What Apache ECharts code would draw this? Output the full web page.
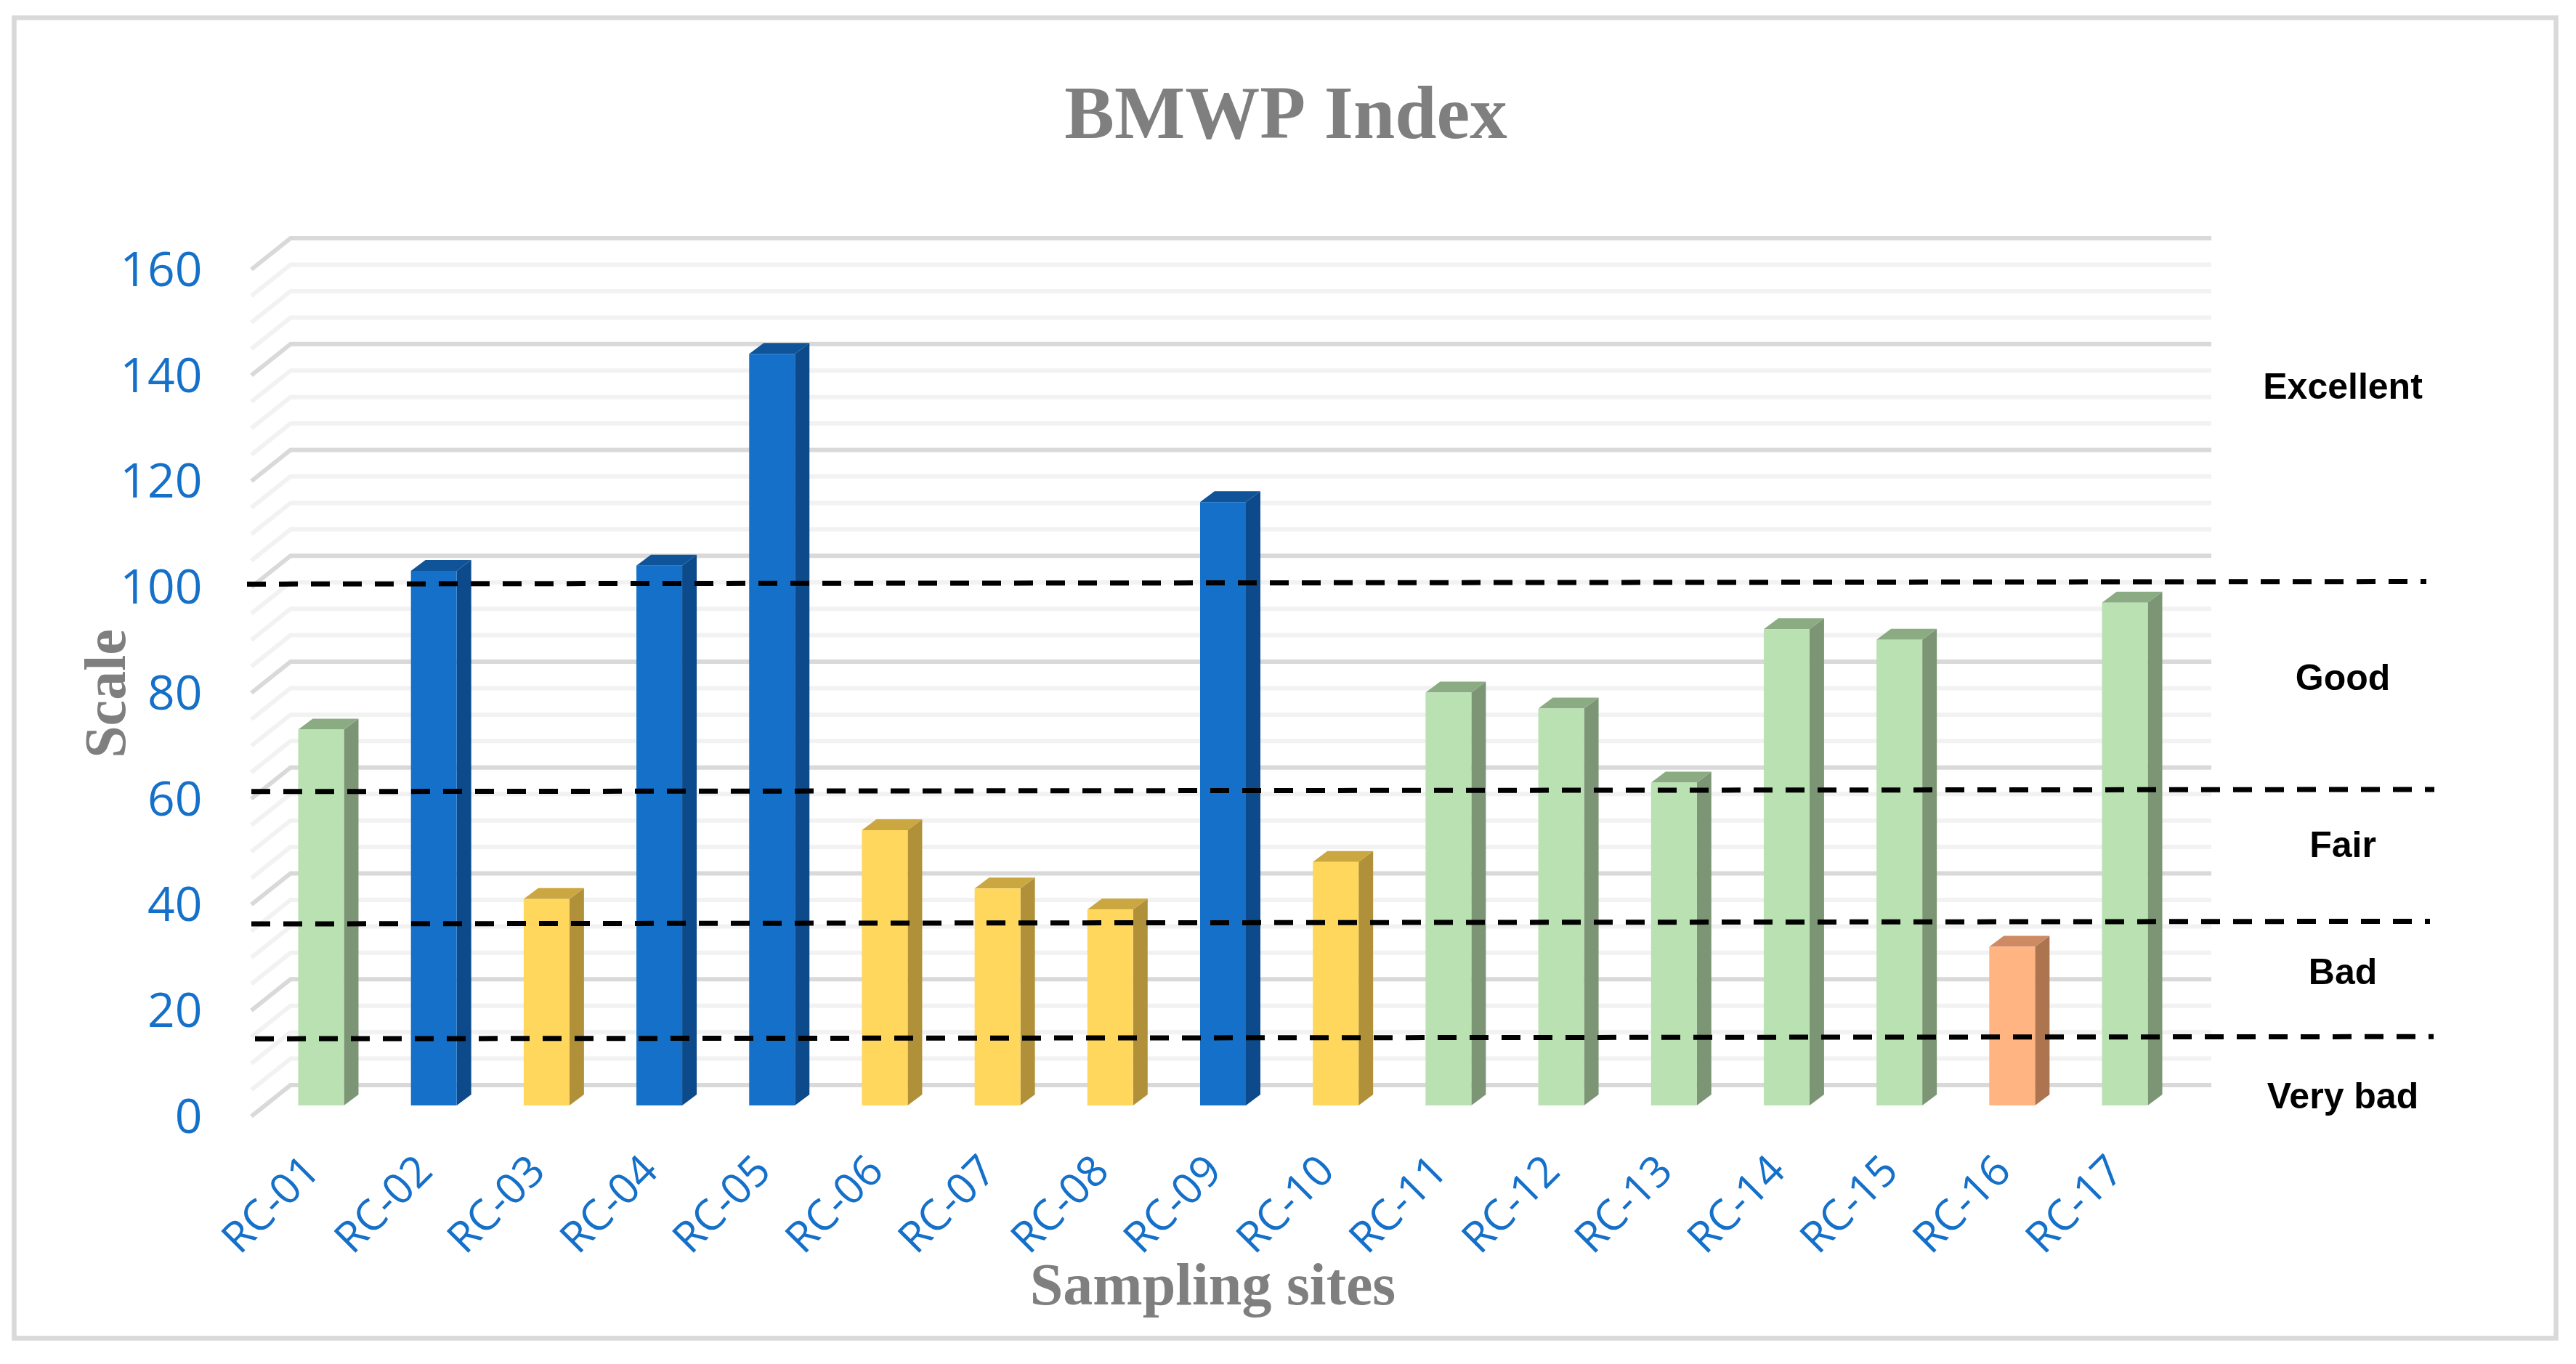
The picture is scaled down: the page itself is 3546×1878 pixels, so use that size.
<!DOCTYPE html>
<html><head><meta charset="utf-8">
<style>html,body{margin:0;padding:0;background:#fff}#c{width:3546px;height:1878px}</style>
<script src="https://cdn.jsdelivr.net/npm/echarts@6/dist/echarts.min.js"></script>
</head><body><div id="c"></div>
<script>
const sites = ['RC-01','RC-02','RC-03','RC-04','RC-05','RC-06','RC-07','RC-08','RC-09','RC-10','RC-11','RC-12','RC-13','RC-14','RC-15','RC-16','RC-17'];
const bmwp = [71,101,39,102,142,52,41,37,114,46,78,75,61,90,88,30,95];
const gridTicks = [0,5,10,15,20,25,30,35,40,45,50,55,60,65,70,75,80,85,90,95,100,105,110,115,120,125,130,135,140,145,150,155,160];
const classNames = ['Excellent','Good','Fair','Bad','Very bad'];
const classLabelY = [135.4,80.4,48.8,24.8,1.4];
const lineStartY = [98.5,59.3,34.3,12.6];
const lineEndY = [99,59.7,34.8,13];
const lineStartX = [340,346,346,351];
const lineEndX = [3340,3351,3345,3350];

const palette = {
  blue:{f:'#1570c9',s:'#0c4a8b',t:'#0f5399'},
  green:{f:'#b9e1b1',s:'#7c9675',t:'#8bab83'},
  yellow:{f:'#ffd75d',s:'#b09139',t:'#cba742'},
  orange:{f:'#ffb482',s:'#ad7450',t:'#cd8a63'}
};
function cls(v){ return v>100?'blue':v>=60?'green':v>=35?'yellow':'orange'; }

const L=364.4, R=3002.6, Y0=1522, Y160=356;
const chart = echarts.init(document.getElementById('c'),null,{renderer:'canvas'});
const axisBlue='#1570c9';
chart.setOption({
  animation:false,
  backgroundColor:'#fff',
  title:{text:'BMWP Index',left:1765,top:158,textAlign:'center',textVerticalAlign:'middle',
    textStyle:{fontFamily:'Liberation Serif',fontWeight:'bold',fontSize:103,color:'#7f7f7f'}},
  graphic:[{type:'rect',silent:true,z:0,shape:{x:19.5,y:24.5,width:3499,height:1818},
    style:{fill:'#fff',stroke:'#d9d9d9',lineWidth:6.5}}],
  grid:{left:L,top:Y160,width:R-L,height:Y0-Y160,containLabel:false},
  xAxis:{type:'category',data:sites,
    axisLine:{show:false},axisTick:{show:false},
    axisLabel:{rotate:45,interval:0,margin:71,fontFamily:'Open Sans',fontSize:59,color:axisBlue,padding:[0,15,0,0]},
    name:'Sampling sites',nameLocation:'middle',nameGap:212,nameMoveOverlap:false,
    nameTextStyle:{fontFamily:'Liberation Serif',fontWeight:'bold',fontSize:82,color:'#7f7f7f',padding:[0,28,0,0]}},
  yAxis:{type:'value',min:0,max:160,interval:20,
    splitLine:{show:false},axisLine:{show:false},axisTick:{show:false},
    axisLabel:{margin:86,fontFamily:'Open Sans',fontSize:66,color:axisBlue,verticalAlign:'top',lineHeight:38},
    name:'Scale',nameLocation:'middle',nameGap:173,nameRotate:90,nameMoveOverlap:false,
    nameTextStyle:{fontFamily:'Liberation Serif',fontWeight:'bold',fontSize:80,color:'#7f7f7f',padding:[0,32,0,0]}},
  series:[
    {type:'custom',name:'walls',coordinateSystem:'cartesian2d',z:1,silent:true,clip:false,
      data:gridTicks.map(v=>[0,v]),
      encode:{x:0,y:1},
      renderItem(p,api){
        const v=api.value(1),c=api.coord([0,v]);
        const major=v%20===0;
        const y=c[1];
        return {type:'polyline',shape:{points:[[346,y+15],[400,y-28],[3044,y-28]]},
          style:{fill:null,stroke:major?'#d9d9d9':'#f2f2f2',lineWidth:6}};
      }},
    {type:'custom',name:'BMWP',coordinateSystem:'cartesian2d',z:2,silent:true,clip:false,
      data:bmwp.map((v,i)=>[i,v]),
      encode:{x:0,y:1},
      renderItem(p,api){
        const i=api.value(0),v=api.value(1);
        const top=api.coord([i,v]),bot=api.coord([i,0]);
        const w=63,dx=20,dy=15;
        const x0=top[0]-w/2,x1=x0+w,yt=top[1],yb=bot[1];
        const col=palette[cls(v)];
        return {type:'group',children:[
          {type:'polygon',shape:{points:[[x1,yt],[x1+dx,yt-dy],[x1+dx,yb-dy],[x1,yb]]},style:{fill:col.s}},
          {type:'polygon',shape:{points:[[x0,yt],[x0+dx,yt-dy],[x1+dx,yt-dy],[x1,yt]]},style:{fill:col.t}},
          {type:'rect',shape:{x:x0,y:yt,width:w,height:yb-yt},style:{fill:col.f}}
        ]};
      }},
    {type:'custom',name:'thresholds',coordinateSystem:'cartesian2d',z:3,silent:true,clip:false,
      data:lineStartY.map((v,i)=>[0,v,lineEndY[i],lineStartX[i],lineEndX[i]]),
      encode:{x:0,y:1},
      renderItem(p,api){
        const a=api.coord([0,api.value(1)]),b=api.coord([0,api.value(2)]);
        return {type:'line',shape:{x1:api.value(3),y1:a[1],x2:api.value(4),y2:b[1]},
          style:{stroke:'#000',lineWidth:7,lineDash:[26,18]}};
      }},
    {type:'custom',name:'classes',coordinateSystem:'cartesian2d',z:3,silent:true,clip:false,
      data:classLabelY.map(v=>[0,v]),
      encode:{x:0,y:1},
      renderItem(p,api){
        const idx=p.dataIndex;
        const c=api.coord([0,api.value(1)]);
        return {type:'text',x:3225,y:c[1],style:{text:classNames[idx],align:'center',verticalAlign:'middle',
          fontFamily:'Liberation Sans',fontWeight:'bold',fontSize:50,fill:'#000'}};
      }}
  ]
});
</script></body></html>
